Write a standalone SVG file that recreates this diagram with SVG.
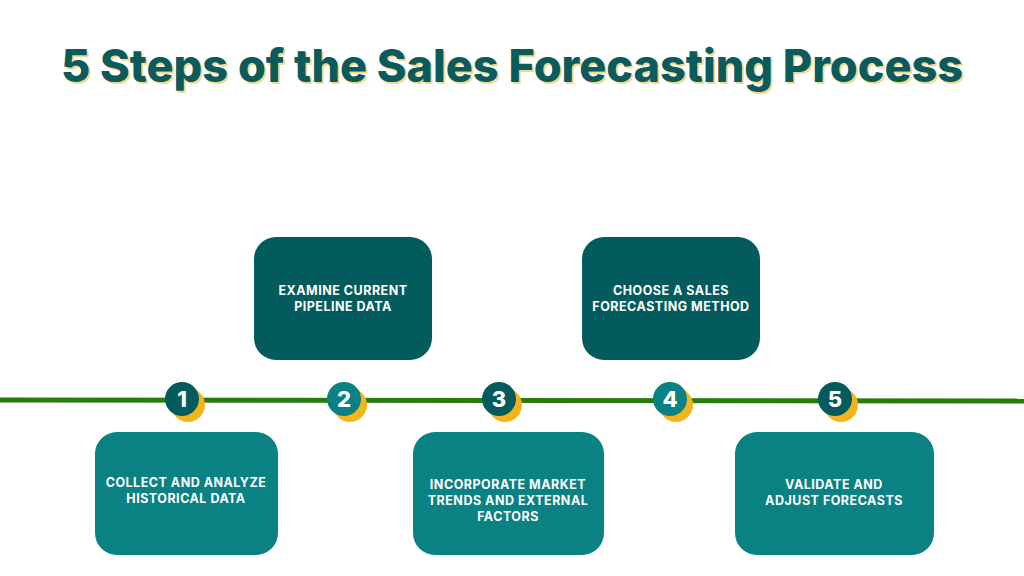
<svg xmlns="http://www.w3.org/2000/svg" width="1024" height="576" viewBox="0 0 1024 576">
<style>
.t{font-family:Inter,"Liberation Sans",sans-serif;font-weight:800;font-size:45px;text-anchor:middle}
.b{font-family:Inter,"Liberation Sans",sans-serif;font-weight:700;font-size:12.5px;fill:#fff;text-anchor:middle;letter-spacing:0.5px}
.n{font-family:Inter,"Liberation Sans",sans-serif;font-weight:800;font-size:22px;fill:#fff;text-anchor:middle}
.dk{fill:#045b5d}.lt{fill:#0a8182}.y{fill:#f2b51c}
</style>
<rect width="1024" height="576" fill="#fff"/>
<text class="t" x="514" y="84" fill="#f5d98a">5 Steps of the Sales Forecasting Process</text>
<text class="t" x="512" y="82" fill="#0a5b5e">5 Steps of the Sales Forecasting Process</text>
<g id="connectors"><line x1="0" y1="400" x2="1024" y2="401" stroke="#2a7a12" stroke-width="5"/></g>
<g id="step1"><rect class="lt" x="95" y="432" width="183" height="123" rx="22"/><text class="b" x="186" y="487">COLLECT AND ANALYZE</text><text class="b" x="186" y="503">HISTORICAL DATA</text>
<circle class="y" cx="188" cy="405" r="17"/><circle class="dk" cx="182" cy="399" r="17"/><text class="n" x="182" y="407">1</text></g>
<g id="step2"><rect class="dk" x="254" y="237" width="178" height="123" rx="22"/><text class="b" x="343" y="295">EXAMINE CURRENT</text><text class="b" x="343" y="311">PIPELINE DATA</text>
<circle class="y" cx="350" cy="405" r="17"/><circle class="lt" cx="344" cy="399" r="17"/><text class="n" x="344" y="407">2</text></g>
<g id="step3"><rect class="lt" x="413" y="432" width="191" height="123" rx="22"/><text class="b" x="508" y="489">INCORPORATE MARKET</text><text class="b" x="508" y="505">TRENDS AND EXTERNAL</text><text class="b" x="508" y="521">FACTORS</text>
<circle class="y" cx="505" cy="405" r="17"/><circle class="dk" cx="499" cy="399" r="17"/><text class="n" x="499" y="407">3</text></g>
<g id="step4"><rect class="dk" x="582" y="237" width="178" height="123" rx="22"/><text class="b" x="671" y="295">CHOOSE A SALES</text><text class="b" x="671" y="311">FORECASTING METHOD</text>
<circle class="y" cx="676" cy="405" r="17"/><circle class="lt" cx="670" cy="399" r="17"/><text class="n" x="670" y="407">4</text></g>
<g id="step5"><rect class="lt" x="735" y="432" width="199" height="123" rx="22"/><text class="b" x="834" y="489">VALIDATE AND</text><text class="b" x="834" y="505">ADJUST FORECASTS</text>
<circle class="y" cx="841" cy="405" r="17"/><circle class="dk" cx="835" cy="399" r="17"/><text class="n" x="835" y="407">5</text></g>
</svg>
